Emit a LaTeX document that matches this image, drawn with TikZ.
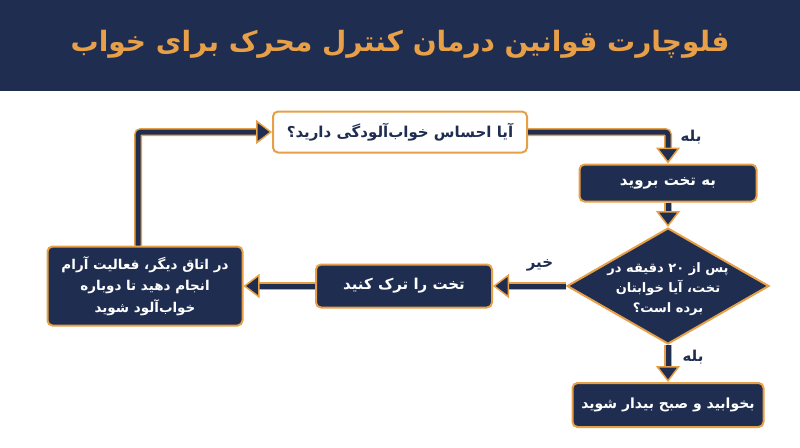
\documentclass[tikz,border=0pt]{standalone}
\usepackage{fontspec}
\newfontfamily\fa[Script=Arabic]{DejaVu Sans}
\TeXXeTstate=1
\usetikzlibrary{arrows.meta,shapes.geometric}
\definecolor{navy}{RGB}{30,45,80}
\definecolor{org}{RGB}{232,160,72}
\newcommand\RT[1]{\beginR #1\endR}
\begin{document}
\begin{tikzpicture}[x=1pt,y=-1pt,
  box/.style={rectangle, rounded corners=5pt, draw=org, line width=2pt, fill=navy, text=white, font=\fa\bfseries\fontsize{15}{20}\selectfont, align=center, inner sep=0pt},
  qbox/.style={box, fill=white, text=navy},
  dia/.style={diamond, draw=org, line width=2pt, fill=navy, inner sep=0pt, minimum width=202pt, minimum height=116pt},
  conn/.style={line width=5pt, draw=navy, rounded corners=3pt, -{Triangle[width=24pt,length=16pt,fill=navy,color=org,line width'=1.5pt]}, preaction={draw=org, line width=8pt, -, shorten >=10pt}},
  lbl/.style={font=\fa\bfseries\fontsize{15}{16}\selectfont, text=navy}]
\useasboundingbox (0,0) rectangle (800,447);
\fill[white] (0,0) rectangle (800,447);
\fill[navy] (0,0) rectangle (800,91);
\node[font=\fa\bfseries\fontsize{28}{32}\selectfont, text=org] (title) at (400,44) {\RT{فلوچارت قوانین درمان کنترل محرک برای خواب}};

\node[qbox, minimum width=254pt, minimum height=41pt] (q) at (400,132) {\RT{آیا احساس خواب‌آلودگی دارید؟}};
\node[box, minimum width=177pt, minimum height=37pt] (bed) at (668,183) {\RT{به تخت بروید}};
\node[dia] (d) at (668,286) {};
\node[font=\fa\bfseries\fontsize{13}{20}\selectfont, text=white, align=center] (dq) at (668,289) {\RT{پس از \beginL ۲۰\endL{} دقیقه در}\\\RT{تخت، آیا خوابتان}\\\RT{برده است؟}};
\node[box, minimum width=176pt, minimum height=43pt] (leave) at (404,286) {\RT{تخت را ترک کنید}};
\node[box, minimum width=195pt, minimum height=79pt, font=\fa\bfseries\fontsize{13.5}{21.5}\selectfont] (other) at (145,286) {\RT{در اتاق دیگر، فعالیت آرام}\\\RT{انجام دهید تا دوباره}\\\RT{خواب‌آلود شوید}};
\node[box, minimum width=191pt, minimum height=44pt, font=\fa\bfseries\fontsize{14}{20}\selectfont] (sleep) at (668,405) {\RT{بخوابید و صبح بیدار شوید}};

\draw[conn] (q.east) -| (bed.north);
\draw[conn] (bed.south) -- (d.north);
\draw[conn] (d.west) -- (leave.east);
\draw[conn] (leave.west) -- (other.east);
\draw[conn] ([xshift=-7pt]other.north) |- (q.west);
\draw[conn] (d.south) -- (sleep.north);

\node[lbl] (yes1) at (691,137) {\RT{بله}};
\node[lbl] (no) at (540,265) {\RT{خیر}};
\node[lbl] (yes2) at (693,357) {\RT{بله}};
\end{tikzpicture}
\end{document}
